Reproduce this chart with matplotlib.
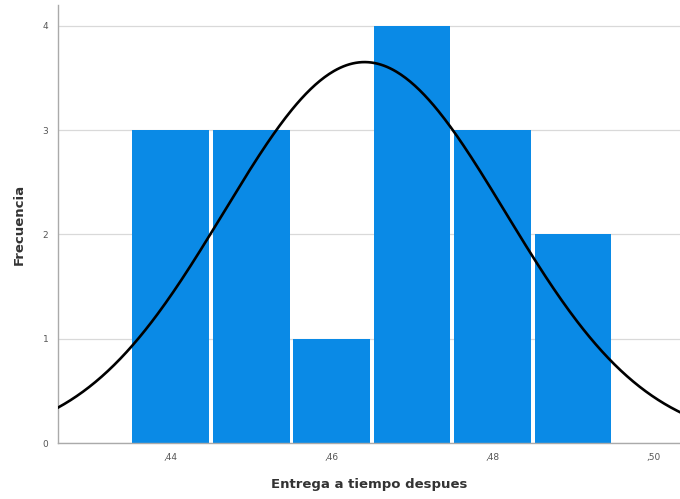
import numpy as np
import matplotlib
matplotlib.use("Agg")
import matplotlib.pyplot as plt

# Histogram counts per bin (bin width 0.01)
bin_edges = [0.435, 0.445, 0.455, 0.465, 0.475, 0.485, 0.495]
counts = [3, 3, 1, 4, 3, 2]
tick_values = [0.44, 0.46, 0.48, 0.50]
tick_labels = [",44", ",46", ",48", ",50"]

# Fitted normal curve parameters
mean = 0.4641
std_dev = 0.01748
n = sum(counts)
bin_width = 0.01

fig = plt.figure(figsize=(6.8, 4.99), dpi=100)
ax = fig.add_axes([0.0853, 0.1122, 0.9147, 0.878])

ax.set_xlim(0.426, 0.5033)
ax.set_ylim(0, 4.2)

ax.grid(axis="y", color="#d9d9d9", linewidth=0.9, zorder=0)
ax.set_axisbelow(True)

# bars drawn slightly narrower than the bin so a white gap shows between them
gap = 0.00045
lefts = np.array(bin_edges[:-1])
widths = np.diff(bin_edges)
ax.bar(lefts + gap / 2, counts, width=widths - gap, align="edge",
       color="#0a8ae6", linewidth=0, zorder=2)

xs = np.linspace(0.426, 0.5033, 400)
ys = n * bin_width / (std_dev * np.sqrt(2 * np.pi)) * np.exp(-0.5 * ((xs - mean) / std_dev) ** 2)
ax.plot(xs, ys, color="black", linewidth=1.9, zorder=3)

ax.set_xticks(tick_values)
ax.set_xticklabels(tick_labels)
ax.set_yticks([0, 1, 2, 3, 4])
ax.tick_params(axis="both", length=0, labelsize=6.5, labelcolor="#555555")
ax.tick_params(axis="x", pad=7)
ax.tick_params(axis="y", pad=7)

for side in ("top", "right"):
    ax.spines[side].set_visible(False)
for side in ("left", "bottom"):
    ax.spines[side].set_color("#aaaaaa")
    ax.spines[side].set_linewidth(1.0)

ax.set_ylabel("Frecuencia", fontsize=9.5, fontweight="bold", color="#333333", labelpad=12)
ax.set_xlabel("Entrega a tiempo despues", fontsize=9.5, fontweight="bold", color="#333333", labelpad=12)

fig.savefig("out.png", dpi=100)
